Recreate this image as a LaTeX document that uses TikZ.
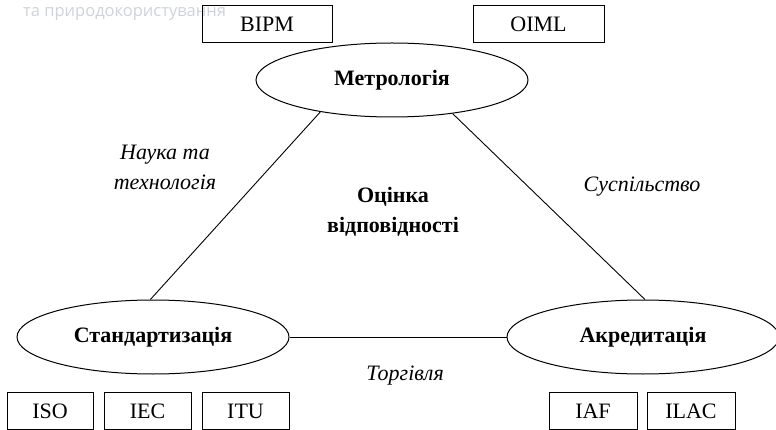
\documentclass[tikz,border=0pt]{standalone}
\usepackage{fontspec}
\setmainfont{Liberation Serif}
\newfontfamily\wmfont{Open Sans}
\usetikzlibrary{shapes.geometric}
\definecolor{wmgray}{RGB}{205,210,220}

\begin{document}
\begin{tikzpicture}[x=1pt, y=-1pt, font=\fontsize{22}{30}\selectfont,
    field/.style={draw, line width=1pt, ellipse, minimum width=272pt, minimum height=74pt, inner sep=0pt, font=\fontsize{22}{30}\selectfont\bfseries},
    orgbox/.style={draw, line width=1pt, minimum height=37pt, inner sep=0pt},
    link/.style={line width=0.9pt}]

		\useasboundingbox (0,0) rectangle (776,430);

		% --- faint page header (left over from the scan)
		\node[wmgray, font=\wmfont\fontsize{16.5}{18}\selectfont, anchor=base west, inner sep=0pt] (wm) at (23,16.5) {та природокористування};

		% --- the three fields (ellipses)
		\node[field] (metro) at (392,80) {Метрологія};
		\node[field] (std) at (153,337) {Стандартизація};
		\node[field] (accr) at (643,337) {Акредитація};

		% --- sides of the triangle
		\draw[link] (metro.204) -- (std.94);
		\draw[link] (metro.331) -- (accr.87);
		\draw[link] (std.east) -- (accr.west);

		% Labels of the sides
		\node[align=center, font=\fontsize{22}{30}\selectfont\itshape] (sci) at (165,167) {Наука та\\технологія};
		\node[font=\fontsize{22}{30}\selectfont\itshape] (soc) at (642,187) {Суспільство};
		\node[font=\fontsize{22}{30}\selectfont\itshape] (trade) at (405,376) {Торгівля};

		% Centre of the triangle
		\node[align=center, font=\fontsize{22}{30}\selectfont\bfseries] (conf) at (393,212) {Оцінка\\відповідності};

		% --- organisations (boxes)
		\node[orgbox, minimum width=130pt] (bipm) at (267,24.5) {BIPM};
		\node[orgbox, minimum width=131pt] (oiml) at (538.5,24.5) {OIML};

		\node[orgbox, minimum width=86pt] (iso) at (50,411) {ISO};
		\node[orgbox, minimum width=87pt] (iec) at (147.5,411) {IEC};
		\node[orgbox, minimum width=87pt] (itu) at (245.5,411) {ITU};

		\node[orgbox, minimum width=88pt] (iaf) at (593,411) {IAF};
		\node[orgbox, minimum width=88pt] (ilac) at (691,411) {ILAC};

	\end{tikzpicture}
\end{document}
